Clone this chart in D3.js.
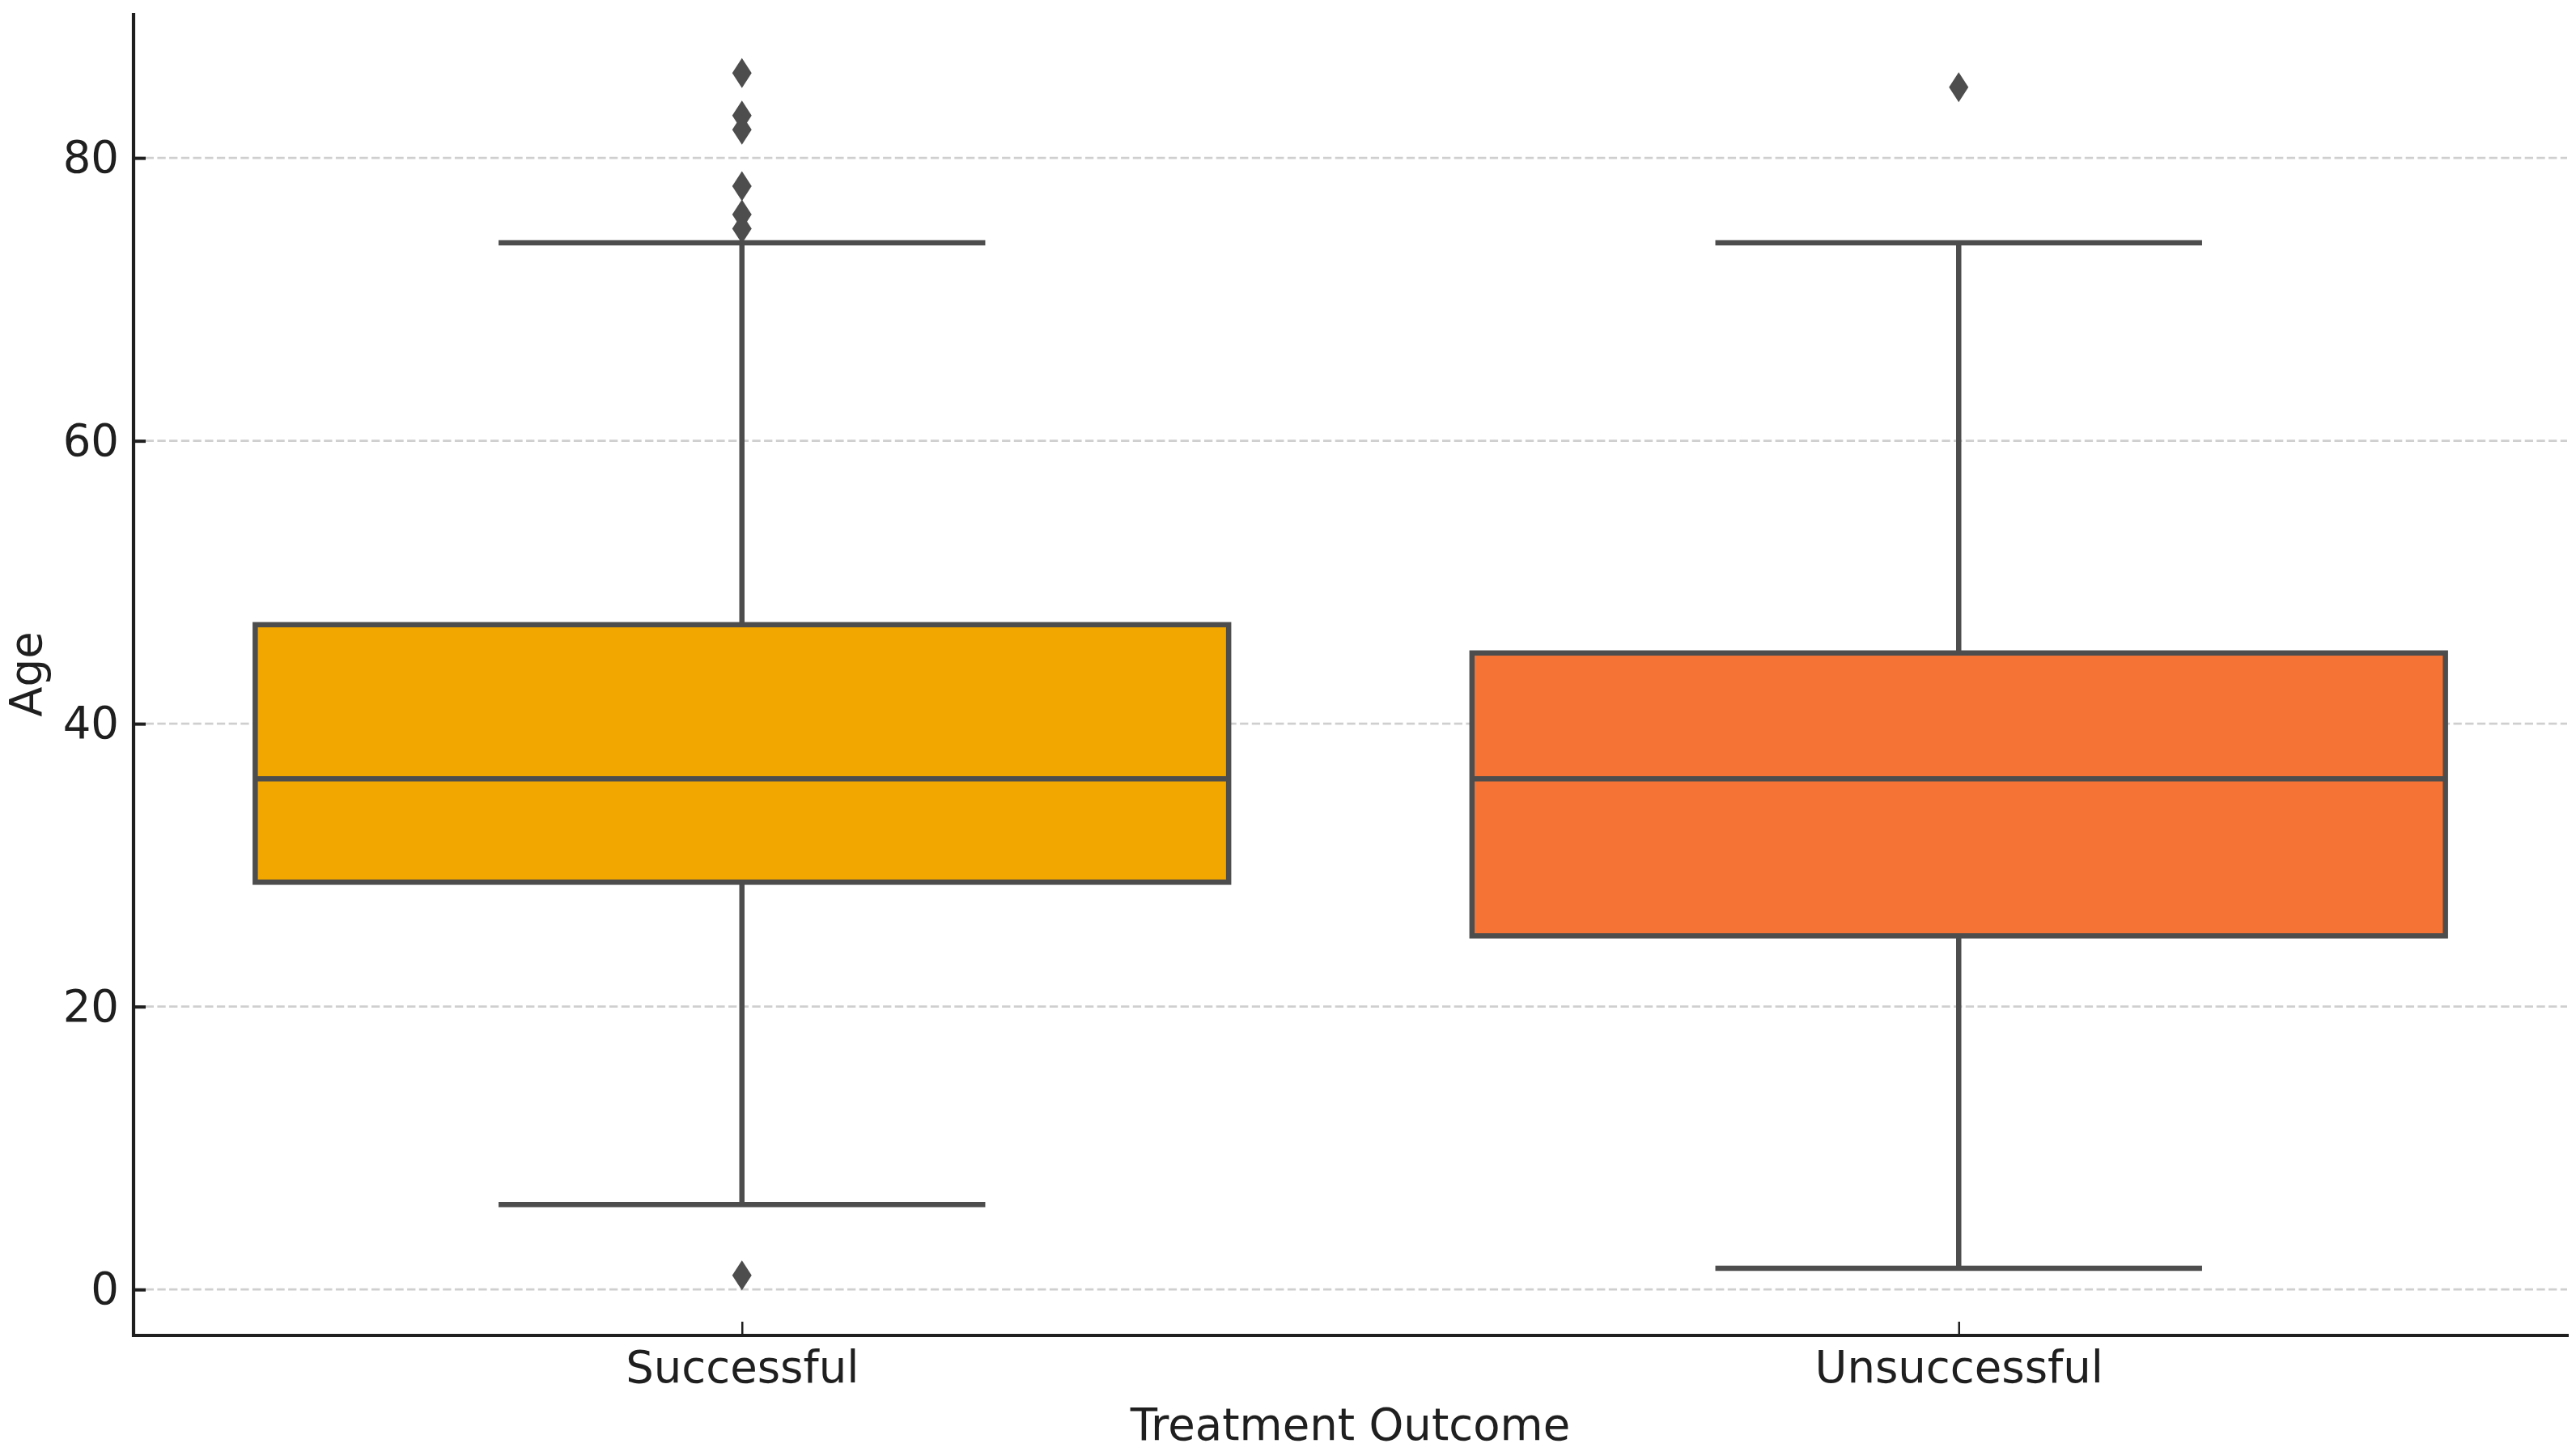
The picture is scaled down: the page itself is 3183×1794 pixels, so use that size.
<!DOCTYPE html>
<html>
<head>
<meta charset="utf-8">
<script src="https://cdn.jsdelivr.net/npm/d3@7"></script>
<style>
  body { margin: 0; background: #fff; }
  text { font-family: "DejaVu Sans", sans-serif; }
</style>
</head>
<body>
<svg id="chart" width="3183" height="1794"></svg>
<script>
// values
const categories = ['Successful', 'Unsuccessful'];
const whiskerLow = [6, 1.5];
const q1 = [28.8, 25];
const medians = [36.1, 36.1];
const q3 = [47, 45];
const whiskerHigh = [74, 74];
const outliers = [[86, 83, 82, 78, 76, 75, 1], [85]];
const yTicks = [0, 20, 40, 60, 80];
const fills = ['#f2a600', '#f57435'];

const plotLeft = 165, plotRight = 3172, plotTop = 16, plotBottom = 1650;
const gray = '#4d4d4d';
const ink = '#1f1f1f';
const fontSize = 54.5;

const svg = d3.select('#chart');

const x = d3.scalePoint().domain(categories).range([plotLeft, plotRight]).padding(0.5);
const y = d3.scaleLinear().domain([-3.25, 90.25]).range([plotBottom, plotTop]);
const step = x.step();

// grid
svg.append('g').selectAll('line').data(yTicks).join('line')
    .attr('x1', plotLeft).attr('x2', plotRight)
    .attr('y1', d => y(d)).attr('y2', d => y(d))
    .attr('stroke', '#cfcfcf')
    .attr('stroke-width', 2.8)
    .attr('stroke-dasharray', '10.3 4.4');

const boxes = categories.map((c, i) => ({
    cat: c, lo: whiskerLow[i], q1: q1[i], med: medians[i], q3: q3[i], hi: whiskerHigh[i],
    fill: fills[i], out: outliers[i]
}));

const g = svg.append('g');
boxes.forEach(b => {
    let cx = x(b.cat);
    let bw = step * 0.8;
    let cw = step * 0.4;
    // whiskers
    g.append('line').attr('x1', cx).attr('x2', cx).attr('y1', y(b.q3)).attr('y2', y(b.hi))
        .attr('stroke', gray).attr('stroke-width', 6.5);
    g.append('line').attr('x1', cx).attr('x2', cx).attr('y1', y(b.q1)).attr('y2', y(b.lo))
        .attr('stroke', gray).attr('stroke-width', 6.5);
    // caps
    [b.lo, b.hi].forEach(v => {
        g.append('line').attr('x1', cx - cw / 2).attr('x2', cx + cw / 2)
            .attr('y1', y(v)).attr('y2', y(v))
            .attr('stroke', gray).attr('stroke-width', 6.5);
    });
    // box
    g.append('rect')
        .attr('x', cx - bw / 2).attr('y', y(b.q3))
        .attr('width', bw).attr('height', y(b.q1) - y(b.q3))
        .attr('fill', b.fill).attr('stroke', gray).attr('stroke-width', 6.5);
    // median
    g.append('line').attr('x1', cx - bw / 2).attr('x2', cx + bw / 2)
        .attr('y1', y(b.med)).attr('y2', y(b.med))
        .attr('stroke', gray).attr('stroke-width', 6.5);
    // outliers as thin diamonds
    g.selectAll(null).data(b.out).join('path')
        .attr('d', v => {
            let p = d3.path();
            let py = y(v);
            p.moveTo(cx, py - 18.5);
            p.lineTo(cx + 12, py);
            p.lineTo(cx, py + 18.5);
            p.lineTo(cx - 12, py);
            p.closePath();
            return p.toString();
        })
        .attr('fill', gray);
});

// axes
const yAxis = svg.append('g').attr('transform', `translate(${plotLeft},0)`)
    .call(d3.axisLeft(y).tickValues(yTicks).tickSizeInner(-15).tickSizeOuter(0).tickPadding(18));
const xAxis = svg.append('g').attr('transform', `translate(0,${plotBottom})`)
    .call(d3.axisBottom(x).tickSizeInner(-17).tickSizeOuter(0).tickPadding(19));

yAxis.select('.domain').attr('stroke', ink).attr('stroke-width', 4.2)
    .attr('d', `M0,${plotTop}V${plotBottom + 2}`);
xAxis.select('.domain').attr('stroke', ink).attr('stroke-width', 4)
    .attr('d', `M${plotLeft - 2},0H${plotRight + 2}`);
yAxis.selectAll('.tick line').attr('stroke', ink).attr('stroke-width', 4);
xAxis.selectAll('.tick line').attr('stroke', ink).attr('stroke-width', 2.5);
[yAxis, xAxis].forEach(a => a.selectAll('.tick text')
    .attr('font-size', fontSize).attr('fill', ink).attr('font-family', '"DejaVu Sans", sans-serif'));

// axis titles
svg.append('text')
    .attr('x', (plotLeft + plotRight) / 2).attr('y', 1779)
    .attr('text-anchor', 'middle').attr('font-size', fontSize).attr('fill', ink)
    .text('Treatment Outcome');
svg.append('text')
    .attr('transform', `translate(51,${(plotTop + plotBottom) / 2}) rotate(-90)`)
    .attr('text-anchor', 'middle').attr('font-size', fontSize).attr('fill', ink)
    .text('Age');
</script>
</body>
</html>
